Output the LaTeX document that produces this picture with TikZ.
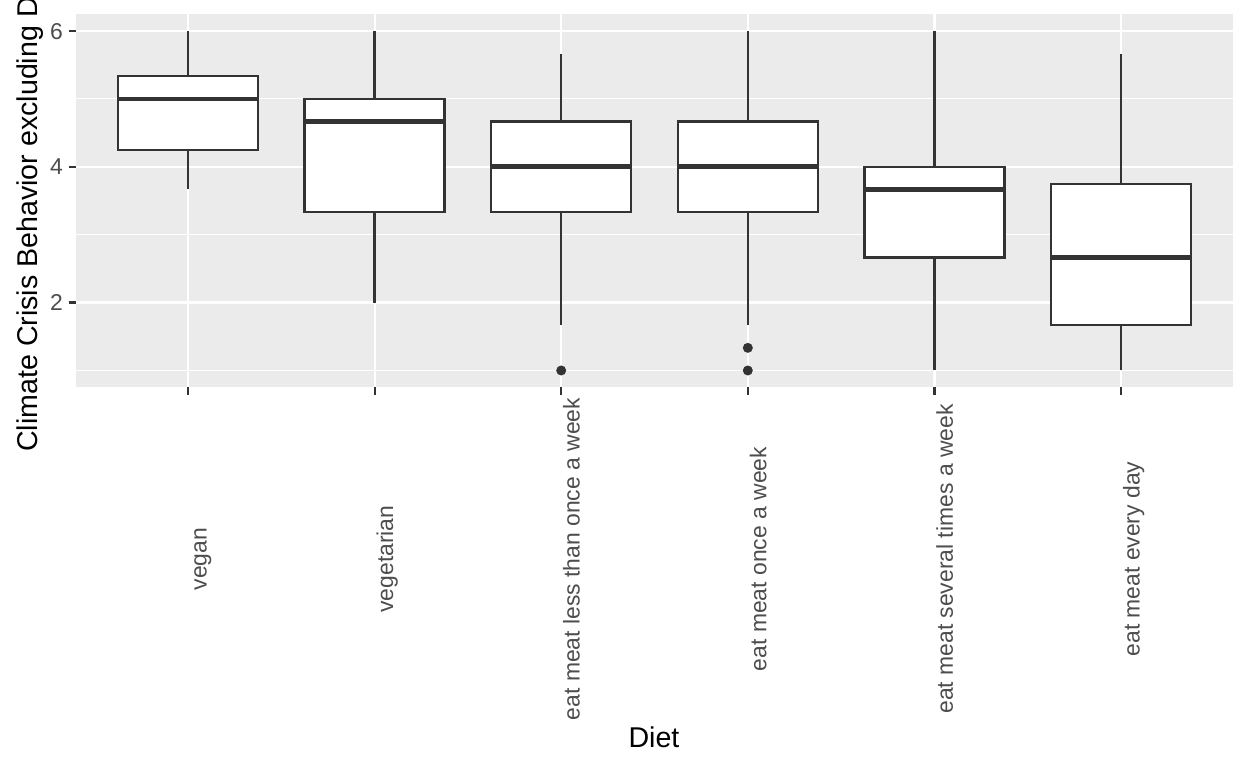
\documentclass[tikz,border=0pt]{standalone}
\usepackage{fontspec}
\setmainfont{Liberation Sans}
\definecolor{panelbg}{HTML}{EBEBEB}
\definecolor{ink}{HTML}{333333}
\definecolor{ticktext}{HTML}{4D4D4D}
\newcommand\dietbox[6]{%
  \draw[whisk] (#1,#2) -- (#1,#3);
  \draw[whisk] (#1,#5) -- (#1,#6);
  \filldraw[boxst] (#1-0.375,#3) rectangle (#1+0.375,#5);
  \draw[medst] (#1-0.375,#4) -- (#1+0.375,#4);
}
\begin{document}
\begin{tikzpicture}[x=1bp,y=1bp,
  majorgrid/.style={draw=white,line width=2.2bp},
  minorgrid/.style={draw=white,line width=1.1bp},
  whisk/.style={draw=ink,line width=2.4bp},
  boxst/.style={draw=ink,fill=white,line width=2.4bp},
  medst/.style={draw=ink,line width=4.7bp},
  tickst/.style={draw=ink,line width=2.2bp},
  ticklab/.style={text=ticktext,font=\fontsize{22.9bp}{27bp}\selectfont,inner sep=0pt},
  titlest/.style={text=black,font=\fontsize{28.6bp}{33bp}\selectfont,inner sep=0pt},
  outl/.style={fill=ink}]
\useasboundingbox (0,0) rectangle (1248,768);
\fill[white] (0,0) rectangle (1248,768);
\fill[panelbg] (76,381) rectangle (1232.6,754);
\begin{scope}[x=186.6bp,y=67.9bp,shift={(1.4bp,329.6bp)}]
  \foreach \v in {1,3,5} \draw[minorgrid] (0.3998,\v) -- (6.598,\v);
  \foreach \v in {2,4,6} \draw[majorgrid] (0.3998,\v) -- (6.598,\v);
  \foreach \i in {1,...,6} \draw[majorgrid] (\i,0.757) -- (\i,6.25);
  \dietbox{1}{3.6667}{4.25}{5}{5.3333}{6}
  \dietbox{2}{2}{3.3333}{4.6667}{5}{6}
  \dietbox{3}{1.6667}{3.3333}{4}{4.6667}{5.6667}
  \dietbox{4}{1.6667}{3.3333}{4}{4.6667}{6}
  \dietbox{5}{1}{2.6667}{3.6667}{4}{6}
  \dietbox{6}{1}{1.6667}{2.6667}{3.75}{5.6667}
  \fill[outl] (3,1) circle[radius=5bp];
  \fill[outl] (4,1) circle[radius=5bp];
  \fill[outl] (4,1.3333) circle[radius=5bp];
\end{scope}
% y ticks
\foreach \Y in {465.4,601.2,737.0} \draw[tickst] (68.7,\Y) -- (76,\Y);
\node[ticklab,anchor=base east] (y2) at (63,457.2) {2};
\node[ticklab,anchor=base east] (y4) at (63,593.0) {4};
\node[ticklab,anchor=base east] (y6) at (63,728.8) {6};
% x ticks
\foreach \X in {188,374.6,561.2,747.8,934.4,1121.0} \draw[tickst] (\X,381) -- (\X,373);
\node[ticklab,rotate=90,anchor=base] (x1) at (206.5,209) {vegan};
\node[ticklab,rotate=90,anchor=base] (x2) at (393.1,209) {vegetarian};
\node[ticklab,rotate=90,anchor=base] (x3) at (579.7,209) {eat meat less than once a week};
\node[ticklab,rotate=90,anchor=base] (x4) at (766.3,209) {eat meat once a week};
\node[ticklab,rotate=90,anchor=base] (x5) at (952.9,209) {eat meat several times a week};
\node[ticklab,rotate=90,anchor=base] (x6) at (1139.5,209) {eat meat every day};
% titles
\node[titlest,anchor=base] (xt) at (654,20) {Diet};
\node[titlest,rotate=90,anchor=base west] (yt) at (37,316) {Climate Crisis Behavior excluding D};
\end{tikzpicture}
\end{document}
